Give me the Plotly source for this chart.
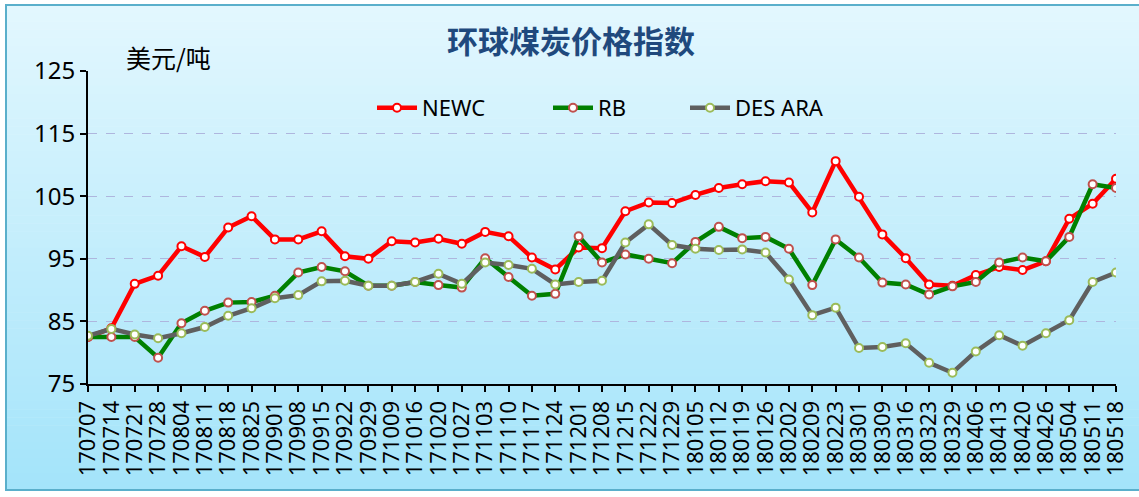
import plotly.graph_objects as go

dates = ["170707","170714","170721","170728","170804","170811","170818","170825","170901","170908",
         "170915","170922","170929","171009","171016","171020","171027","171103","171110","171117",
         "171124","171201","171208","171215","171222","171229","180105","180112","180119","180126",
         "180202","180209","180223","180301","180309","180316","180323","180329","180406","180413",
         "180420","180426","180504","180511","180518"]

newc = [82.5, 83.9, 91.0, 92.3, 97.0, 95.3, 100.0, 101.8, 98.1, 98.1,
        99.4, 95.4, 95.0, 97.8, 97.6, 98.2, 97.4, 99.3, 98.6, 95.2,
        93.3, 96.8, 96.7, 102.6, 104.0, 103.9, 105.2, 106.3, 106.9, 107.4,
        107.2, 102.4, 110.6, 104.9, 98.9, 95.1, 90.9, 90.7, 92.4, 93.7,
        93.2, 94.6, 101.4, 103.8, 107.8]

rb = [82.5, 82.5, 82.5, 79.2, 84.7, 86.7, 88.0, 88.1, 89.1, 92.8,
      93.7, 93.0, 90.7, 90.7, 91.3, 90.8, 90.4, 95.1, 92.1, 89.1,
      89.4, 98.6, 94.4, 95.7, 95.0, 94.3, 97.7, 100.1, 98.3, 98.5,
      96.6, 90.8, 98.1, 95.2, 91.2, 90.9, 89.3, 90.6, 91.3, 94.4,
      95.2, 94.6, 98.5, 106.9, 106.3]

des_ara = [82.7, 83.8, 82.9, 82.3, 83.1, 84.1, 85.9, 87.1, 88.7, 89.2,
           91.4, 91.5, 90.7, 90.7, 91.3, 92.6, 91.0, 94.4, 94.0, 93.4,
           90.9, 91.3, 91.5, 97.6, 100.5, 97.2, 96.6, 96.4, 96.5, 96.0,
           91.7, 86.0, 87.2, 80.75, 80.9, 81.5, 78.4, 76.8, 80.2, 82.8,
           81.1, 83.1, 85.2, 91.3, 92.8]

y_ticks = [75, 85, 95, 105, 115, 125]

W, H = 1139, 497
L, R, T, B = 88, 1116, 71, 384

def px_x(px):
    return (px - L) / (R - L)

def px_y(py):
    return (B - py) / (B - T)

FONT = "Noto Sans, Lato, sans-serif"

fig = go.Figure()

series = [
    ("NEWC", newc, "#FF0000", "#FF0000", "legend", 372),
    ("RB", rb, "#008000", "#C0504D", "legend2", 548),
    ("DES ARA", des_ara, "#5F5F5F", "#9BBB59", "legend3", 685),
]
for name, vals, lc, mc, lg, lx in series:
    fig.add_trace(go.Scatter(
        x=list(range(len(dates))), y=vals, name=name, mode="lines+markers",
        line=dict(color=lc, width=4.5),
        marker=dict(size=8, color="white", line=dict(color=mc, width=2)),
        legend=lg,
    ))

legend_style = dict(orientation="h", yanchor="middle", xanchor="left",
                    bgcolor="rgba(0,0,0,0)", font=dict(size=22, family=FONT),
                    itemwidth=40)
legends = {}
for name, vals, lc, mc, lg, lx in series:
    d = dict(legend_style)
    d.update(x=px_x(lx), y=px_y(108))
    legends[lg] = d

# gradient background
shapes = []
n = 60
top_c = (0xE2, 0xF7, 0xFE)
bot_c = (0xA4, 0xE4, 0xFA)
y0p, y1p = 5, 490
for i in range(n):
    f = i / (n - 1)
    c = tuple(int(round(top_c[k] + (bot_c[k] - top_c[k]) * f)) for k in range(3))
    ya = y0p + (y1p - y0p) * i / n
    yb = y0p + (y1p - y0p) * (i + 1) / n + 0.5
    shapes.append(dict(type="rect", xref="paper", yref="paper", layer="below",
                       x0=px_x(6), x1=px_x(1139), y0=px_y(yb), y1=px_y(ya),
                       fillcolor="rgb(%d,%d,%d)" % c, line=dict(width=0)))
shapes.append(dict(type="rect", xref="paper", yref="paper", layer="below",
                   x0=px_x(6), x1=px_x(1145), y0=px_y(490), y1=px_y(5),
                   fillcolor="rgba(0,0,0,0)", line=dict(color="#5AAFCB", width=2)))
fig.update_layout(shapes=shapes)

fig.update_layout(
    width=W, height=H,
    margin=dict(l=L, r=W - R, t=T, b=H - B),
    paper_bgcolor="white",
    plot_bgcolor="rgba(0,0,0,0)",
    font=dict(family=FONT, color="black", size=20),
    showlegend=True,
    xaxis=dict(
        range=[0, len(dates) - 1],
        tickmode="array", tickvals=list(range(len(dates))), ticktext=dates,
        tickangle=-90, tickfont=dict(size=22, family=FONT),
        showgrid=False, showline=True, linecolor="black", linewidth=2,
        ticks="outside", ticklen=6, tickcolor="black", tickwidth=1.5,
        zeroline=False, automargin=False,
    ),
    yaxis=dict(
        range=[75, 125], tickmode="array", tickvals=y_ticks,
        ticktext=[str(v) for v in y_ticks],
        tickfont=dict(size=24, family=FONT),
        showgrid=True, gridcolor="#AEB6DE", griddash="dash", gridwidth=1,
        showline=True, linecolor="black", linewidth=2,
        ticks="outside", ticklen=6, tickcolor="black", tickwidth=1.5,
        zeroline=False, automargin=False,
    ),
    annotations=[
        dict(text="<b>环球煤炭价格指数</b>", xref="paper", yref="paper",
             x=px_x(571), y=px_y(40), xanchor="center", yanchor="middle",
             showarrow=False, font=dict(size=31, color="#1F497D", family="Noto Sans CJK SC")),
        dict(text="美元/吨", xref="paper", yref="paper",
             x=px_x(124), y=px_y(57), xanchor="left", yanchor="middle",
             showarrow=False, font=dict(size=25, color="black", family="Noto Sans CJK SC")),
    ],
    **legends,
)

fig.write_html("out.html", config={"displayModeBar": False},
               post_script="document.body.style.margin='0';")
